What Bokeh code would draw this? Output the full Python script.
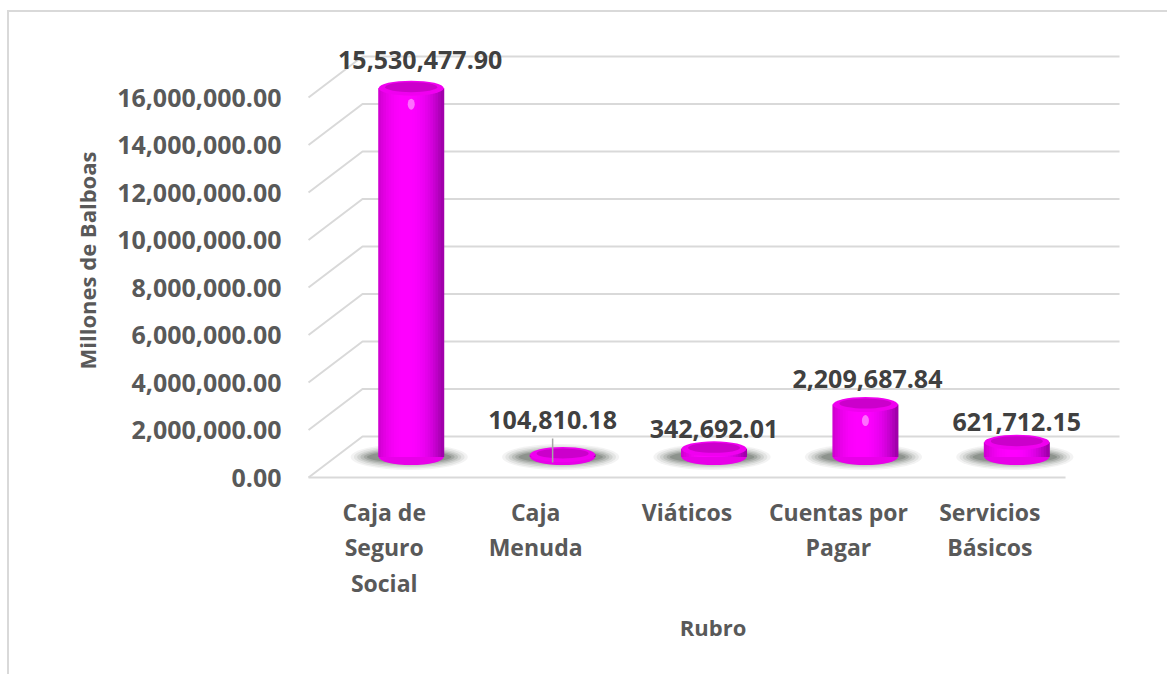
from bokeh.plotting import figure
from bokeh.models import Range1d, FixedTicker, NumeralTickFormatter, ColumnDataSource, LabelSet
from bokeh.core.properties import value
from bokeh.embed import file_html
from bokeh.resources import INLINE

# ---------------- data ----------------
categories = ["Caja de Seguro Social", "Caja Menuda", "Viáticos", "Cuentas por Pagar", "Servicios Básicos"]
category_labels = ["Caja de\nSeguro\nSocial", "Caja\nMenuda", "Viáticos", "Cuentas por\nPagar", "Servicios\nBásicos"]
amounts = [15530477.90, 104810.18, 342692.01, 2209687.84, 621712.15]
y_ticks = [0, 2000000, 4000000, 6000000, 8000000, 10000000, 12000000, 14000000, 16000000]
y_title = "Millones de Balboas"
x_title = "Rubro"

# ---------------- layout / style ----------------
OX, OY = 9, 12                                  # canvas origin on the page (after css margin + border)
W, H = 1160, 664
FL, FT, FR, FB = 305 - OX, 40 - OY, 1120 - OX, 480 - OY   # frame edges in canvas px
PX_X = 151.4                                   # px per category unit
PX_Y = 23.75e-6                                # px per value unit
X_START = -0.02
X_END = X_START + (FR - FL) / PX_X
Y_START = -3 / PX_Y
Y_END = Y_START + (FB - FT) / PX_Y
DX = 54 / PX_X                                 # depth offset (x)
DY = 41 / PX_Y                                 # depth offset (y)
BW = 0.43                                      # cylinder width
GRID = "#D9D9D9"
TXT = "#595959"
VTXT = "#404040"
FONT = "Open Sans"

def px_y(px):
    return px / PX_Y

def px_x(px):
    return px / PX_X

p = figure(width=W, height=H, x_range=Range1d(X_START, X_END), y_range=Range1d(Y_START, Y_END),
           output_backend="svg", toolbar_location=None,
           min_border_left=FL, min_border_right=W - FR, min_border_top=FT, min_border_bottom=H - FB)
p.styles = {"border-left": "2px solid #D9D9D9", "border-top": "2px solid #D9D9D9",
            "margin-left": f"{OX - 2}px", "margin-top": f"{OY - 2}px"}
p.grid.visible = False
p.outline_line_color = None
p.background_fill_color = "white"
p.border_fill_color = "white"

n = len(categories)
front_x = [i + 0.5 for i in range(n)]
bar_x = [fx + DX / 2 for fx in front_x]
base = DY / 2
tops = [a + base for a in amounts]

# 3D wall / floor gridlines from tick values
xs, ys = [], []
for v in y_ticks:
    xs.append([0, DX, n + DX])
    ys.append([v, v + DY, v + DY])
xs.append([0, n])
ys.append([0, 0])
p.multi_line(xs, ys, line_color=GRID, line_width=2)

# shadows
for wfac, hpx, al in [(1.8, 26, 0.06), (1.7, 23, 0.08), (1.6, 20, 0.1), (1.5, 17, 0.13), (1.4, 14, 0.16), (1.3, 11, 0.2)]:
    p.ellipse(x=[bx - px_x(2) for bx in bar_x], y=[base] * n, width=BW * wfac, height=hpx,
              height_units="screen", fill_color="#2F3A2F", fill_alpha=al, line_color=None)

# cylinder bottoms
p.ellipse(x=bar_x, y=[base] * n, width=BW, height=16, height_units="screen",
          fill_color="#E800E8", line_color=None)

def shade(t):
    if t < -0.1:
        f = 1 - 0.2 * ((-0.1 - t) / 0.9) ** 2.5
    else:
        f = 1 - 0.36 * ((t + 0.1) / 1.1) ** 2.5
    r = int(255 * f * (1 - 0.06 * max(t, 0)))
    b = int(255 * f)
    return "#%02x%02x%02x" % (r, 0, b)

NS = 25
for k in range(NS):
    t = (k + 0.5) / NS * 2 - 1
    off = t * BW / 2
    p.vbar(x=[bx + off for bx in bar_x], width=BW / NS * 1.35, bottom=base, top=tops,
           fill_color=shade(t), line_color=None)

# cylinder tops
p.ellipse(x=bar_x, y=tops, width=BW, height=15, height_units="screen",
          fill_color="#F000F0", line_color=None)
p.ellipse(x=bar_x, y=[t + px_y(1) for t in tops], width=BW * 0.8, height=10, height_units="screen",
          fill_color="#C400C4", fill_alpha=0.85, line_color=None)

# highlight spots on tall bars
hx = [bx for bx, a in zip(bar_x, amounts) if a > 1000000]
hy = [t - px_y(16) for t, a in zip(tops, amounts) if a > 1000000]
p.ellipse(x=hx, y=hy, width=px_x(7), height=11, height_units="screen",
          fill_color="#FF9CFF", fill_alpha=0.7, line_color=None)

# value labels (pixel nudges are styling)
NUDGE = {"Caja de Seguro Social": (9, 8), "Caja Menuda": (-10, 15), "Cuentas por Pagar": (2, 6)}
xoff = [NUDGE.get(c, (0, 0))[0] for c in categories]
yoff = [11 + NUDGE.get(c, (0, 0))[1] for c in categories]
src = ColumnDataSource(dict(x=bar_x, y=tops, text=[f"{a:,.2f}" for a in amounts], xoff=xoff, yoff=yoff))
p.add_layout(LabelSet(x="x", y="y", text="text", source=src, x_offset="xoff", y_offset="yoff",
                      text_align="center", text_baseline="bottom", text_font=value(FONT),
                      text_font_size=value("25px"), text_font_style="bold", text_color=VTXT))

# leader line for the moved label
for c, bx, t in zip(categories, bar_x, tops):
    if c == "Caja Menuda":
        lx = bx + px_x(NUDGE[c][0])
        p.segment(x0=[lx], y0=[t - px_y(8)], x1=[lx], y1=[t + px_y(16)], line_color="#A6A6A6", line_width=1.5)

# axes
ya = p.yaxis[0]
ya.ticker = FixedTicker(ticks=y_ticks)
ya.formatter = NumeralTickFormatter(format="0,0.00")
ya.axis_line_color = None
ya.major_tick_line_color = None
ya.minor_tick_line_color = None
ya.major_label_standoff = 18
ya.major_label_text_font = FONT
ya.major_label_text_font_size = "25px"
ya.major_label_text_font_style = "bold"
ya.major_label_text_color = TXT
ya.axis_label = y_title
ya.axis_label_standoff = 12
ya.axis_label_text_font = FONT
ya.axis_label_text_font_size = "22px"
ya.axis_label_text_font_style = "bold"
ya.axis_label_text_color = TXT

xa = p.xaxis[0]
xa.ticker = FixedTicker(ticks=front_x)
xa.major_label_overrides = {fx: lab for fx, lab in zip(front_x, category_labels)}
xa.axis_line_color = None
xa.major_tick_line_color = None
xa.minor_tick_line_color = None
xa.major_label_standoff = 9
xa.major_label_text_font = FONT
xa.major_label_text_font_size = "23px"
xa.major_label_text_font_style = "bold"
xa.major_label_text_color = TXT
xa.major_label_text_line_height = 1.12
xa.axis_label = x_title
xa.axis_label_standoff = 10
xa.axis_label_text_font = FONT
xa.axis_label_text_font_size = "22px"
xa.axis_label_text_font_style = "bold"
xa.axis_label_text_color = TXT

open("out.html", "w").write(file_html(p, INLINE))
